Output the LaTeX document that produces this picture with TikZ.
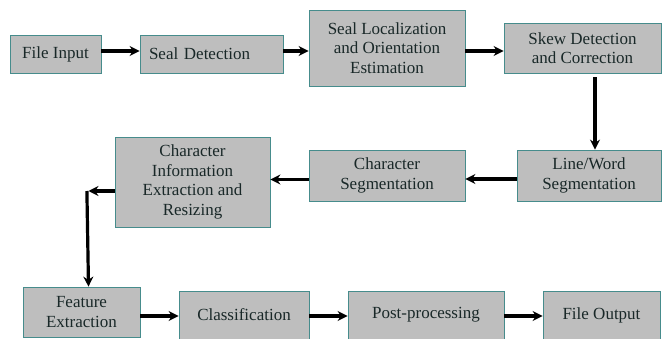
\documentclass[tikz,border=0pt]{standalone}
\usepackage{fontspec}
\setmainfont{Liberation Serif}
\usetikzlibrary{arrows.meta,calc}
\definecolor{boxfill}{RGB}{190,190,190}
\definecolor{boxline}{RGB}{70,140,140}
\definecolor{txt}{RGB}{25,40,40}
\begin{document}
\begin{tikzpicture}[x=1pt,y=-1pt,
  blk/.style={draw=boxline,fill=boxfill,line width=0.8pt,inner sep=2pt,align=center,
    font=\rmfamily\fontsize{17}{19.5}\selectfont,text=txt},
  arr/.style={line width=3.2pt,draw=black,-{Stealth[length=10pt,width=10pt]}}]
\useasboundingbox (0,0) rectangle (670,339);
\node[blk,minimum width=91pt,minimum height=38pt] (fin) at (55.5,54) {File Input};
\node[blk,minimum width=143pt,minimum height=38pt,text width=125pt,align=left] (sdet) at (211.5,54) {Seal Detection};
\node[blk,minimum width=156pt,minimum height=76pt] (sloc) at (387,48) {Seal Localization\\and Orientation\\Estimation};
\node[blk,minimum width=157pt,minimum height=50pt] (skew) at (582.5,48) {Skew Detection\\and Correction};
\node[blk,minimum width=144pt,minimum height=51pt] (lw) at (589,175.5) {Line/Word\\Segmentation};
\node[blk,minimum width=156pt,minimum height=51pt] (cseg) at (387,175.5) {Character\\Segmentation};
\node[blk,minimum width=155pt,minimum height=90pt] (cinfo) at (192.5,182) {Character\\Information\\Extraction and\\Resizing};
\node[blk,minimum width=117pt,minimum height=50pt] (feat) at (81.5,312) {Feature\\Extraction};
\node[blk,minimum width=130pt,minimum height=48pt] (cls) at (244,315) {Classification};
\node[blk,minimum width=156pt,minimum height=48pt] (post) at (426,315) {Post-processing};
\node[blk,minimum width=117pt,minimum height=48pt] (fout) at (601.5,315) {File Output};
\coordinate (corner) at ([xshift=7pt,yshift=-9pt]feat.north |- cinfo.west);
\draw[arr] ([yshift=3pt]fin.east) -- ([yshift=3pt]sdet.west);
\draw[arr] ([yshift=3pt]sdet.east) -- ([yshift=3pt]sdet.east -| sloc.west);
\draw[arr] ([yshift=-3pt]sloc.east) -- ([yshift=-3pt]sloc.east -| skew.west);
\draw[arr] ([xshift=6pt,yshift=-4pt]lw.north |- skew.south) -- ([xshift=6pt]lw.north);
\draw[arr] ([yshift=-3.5pt]lw.west) -- ([yshift=-3.5pt]lw.west -| cseg.east);
\draw[arr] ([yshift=-4pt]cseg.west) -- ([yshift=-4pt]cseg.west -| cinfo.east);
\draw[arr] ([yshift=-9pt]cinfo.west) -- (corner);
\draw[arr] ([xshift=-1.6pt]corner) -- ([xshift=7pt]feat.north);
\draw[arr] ([yshift=-4pt]feat.east) -- ([yshift=-4pt]feat.east -| cls.west);
\draw[arr] ([yshift=-1pt]cls.east) -- ([yshift=-1pt]cls.east -| post.west);
\draw[arr] ([yshift=-1pt]post.east) -- ([yshift=-1pt]post.east -| fout.west);
\end{tikzpicture}
\end{document}
